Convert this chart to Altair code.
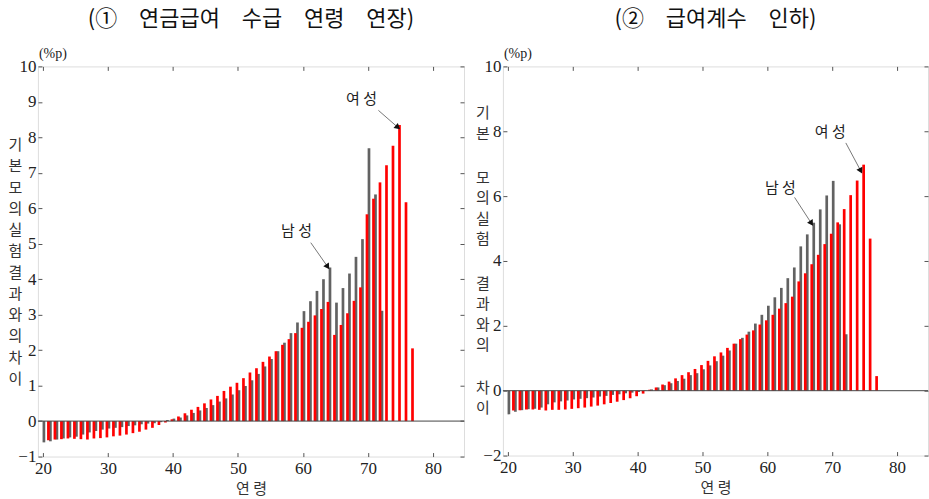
import altair as alt
import pandas as pd

# ---------------- data ----------------
x_ticks = [20, 30, 40, 50, 60, 70, 80]

# Panel 1: 연금급여 수급 연령 연장
ages_m1 = list(range(20, 73))
male_1 = [-0.60, -0.57, -0.52, -0.49, -0.46, -0.44, -0.38, -0.32, -0.28, -0.24,
          -0.21, -0.19, -0.17, -0.14, -0.12, -0.09, -0.07, -0.06, -0.03, 0.03,
          0.07, 0.10, 0.16, 0.23, 0.30, 0.37, 0.45, 0.55, 0.64, 0.75,
          0.87, 0.99, 1.15, 1.33, 1.54, 1.75, 1.97, 2.21, 2.48, 2.78,
          3.10, 3.38, 3.67, 4.00, 4.33, 3.34, 3.75, 4.16, 4.63, 5.13,
          7.69, 6.39, 3.11]
ages_f1 = list(range(21, 78))
female_1 = [-0.54, -0.52, -0.51, -0.49, -0.50, -0.51, -0.52, -0.49, -0.48,
            -0.46, -0.43, -0.41, -0.38, -0.34, -0.30, -0.24, -0.19, -0.11, -0.04,
            0.05, 0.13, 0.22, 0.32, 0.40, 0.50, 0.61, 0.71, 0.85, 0.97,
            1.08, 1.21, 1.37, 1.49, 1.67, 1.82, 1.97, 2.15, 2.31, 2.48,
            2.63, 2.80, 2.98, 3.16, 3.36, 2.43, 2.71, 3.04, 3.39, 3.77,
            5.83, 6.27, 6.73, 7.21, 7.76, 8.35, 6.17, 2.05]
y_ticks_1 = list(range(-1, 11))

# Panel 2: 급여계수 인하
ages_m2 = list(range(20, 73))
male_2 = [-0.73, -0.65, -0.60, -0.57, -0.56, -0.52, -0.42, -0.36, -0.33, -0.30,
          -0.27, -0.25, -0.23, -0.21, -0.18, -0.16, -0.13, -0.11, -0.08, -0.06,
          -0.04, -0.01, 0.04, 0.10, 0.17, 0.23, 0.30, 0.37, 0.48, 0.54,
          0.66, 0.78, 0.91, 1.08, 1.24, 1.45, 1.63, 1.82, 2.07, 2.34,
          2.62, 2.88, 3.17, 3.47, 3.80, 4.45, 4.82, 5.18, 5.59, 6.02,
          6.47, 5.13, 1.74]
ages_f2 = list(range(21, 78))
female_2 = [-0.61, -0.60, -0.58, -0.58, -0.59, -0.61, -0.59, -0.59, -0.58,
            -0.56, -0.54, -0.52, -0.49, -0.46, -0.42, -0.38, -0.34, -0.29, -0.23,
            -0.17, -0.09, 0.03, 0.10, 0.19, 0.28, 0.38, 0.48, 0.57, 0.67,
            0.79, 0.92, 1.06, 1.18, 1.32, 1.45, 1.59, 1.73, 1.86, 2.04,
            2.17, 2.34, 2.53, 2.70, 2.90, 3.37, 3.62, 3.90, 4.19, 4.52,
            4.84, 5.19, 5.60, 6.03, 6.48, 6.97, 4.69, 0.45]
y_ticks_2 = [-2, 0, 2, 4, 6, 8, 10]

# annotations: label position, arrow start, arrow end (data units), arrowhead angle
ann_text = ["남 성", "여 성"]
ann1_tx, ann1_ty = [59.0, 69.0], [5.37, 9.07]
ann1_sx, ann1_sy = [61.2, 71.6], [5.03, 8.76]
ann1_ex, ann1_ey = [63.8, 74.6], [4.35, 8.28]
ann1_ang = [56, 40]
ann2_tx, ann2_ty = [62.0, 69.7], [6.26, 7.97]
ann2_sx, ann2_sy = [64.2, 72.1], [5.96, 7.64]
ann2_ex, ann2_ey = [66.8, 74.4], [5.16, 6.78]
ann2_ang = [57, 62]

title_1 = "(①\u3000연금급여\u3000수급\u3000연령\u3000연장)"
title_2 = "(②\u3000급여계수\u3000인하)"
# y-axis caption: panel 1 as one stacked column, panel 2 split in groups
ylab_1 = list("기본모의실험결과와의차이")
ylab_2_groups = ["기\n본", "모\n의\n실\n험", "결\n과\n와\n의", "차\n이"]
ylab_2_first = [8.55, 6.57, 3.30, 0.09]   # level of each group's first character

NUM_FONT = "Liberation Sans Narrow"
KR_FONT = "Noto Sans CJK KR"
RED = "#ff0000"
GRAY = "#626262"


def panel(ages_m, vals_m, ages_f, vals_f, ydom, yticks, w, h, title, toff,
          ylab, lh, tx, tY, sx, sy, ex, ey, ang, pct_y, groups=None, groups_y=None):
    dm = pd.DataFrame({"age": ages_m, "v": vals_m})
    df = pd.DataFrame({"age": ages_f, "v": vals_f})
    xs = alt.Scale(domain=[20, 84], nice=False, zero=False)
    ys = alt.Scale(domain=ydom, nice=False, zero=False)

    x_main = alt.Axis(values=x_ticks, ticks=False, domain=False, grid=False,
                      labelFont=NUM_FONT, labelFontSize=17, labelColor="#222",
                      labelPadding=4, title="연 령", titleFont=KR_FONT,
                      titleFontSize=15, titleFontWeight="normal", titleColor="#333",
                      titlePadding=5)
    y_kw = dict(values=yticks, ticks=False, domain=False, grid=False,
                labelFont=NUM_FONT, labelFontSize=17, labelColor="#222",
                labelPadding=2, labelFlush=False)
    if ylab is not None:
        n = len(ylab)
        first_y = h / 2 - (n - 1) / 2 * lh
        y_main = alt.Axis(title=ylab, titleAngle=0, titleX=-23, titleY=first_y,
                          titleAlign="center", titleBaseline="middle",
                          titleLineHeight=lh, titleFont=KR_FONT, titleFontSize=15,
                          titleFontWeight="normal", titleColor="#333", **y_kw)
    else:
        y_main = alt.Axis(title=None, **y_kw)

    gray_bars = alt.Chart(dm).mark_bar(size=2.7, xOffset=1, color=GRAY).encode(
        x=alt.X("age:Q", scale=xs, axis=x_main),
        y=alt.Y("v:Q", scale=ys, axis=y_main),
    )
    red_bars = alt.Chart(df).mark_bar(size=2.7, xOffset=-1, color=RED).encode(
        x=alt.X("age:Q", scale=xs, axis=None),
        y=alt.Y("v:Q", scale=ys, axis=None),
    )

    def tick_axis(orient, vals):
        return alt.Axis(orient=orient, offset=-4, tickSize=4, tickColor="#555",
                        labels=False, domain=False, grid=False, title=None, values=vals)

    ticks_bl = alt.Chart(dm).mark_point(opacity=0).encode(
        x=alt.X("age:Q", scale=xs, axis=tick_axis("bottom", x_ticks)),
        y=alt.Y("v:Q", scale=ys, axis=tick_axis("left", yticks)),
    )
    ticks_tr = alt.Chart(dm).mark_point(opacity=0).encode(
        x=alt.X("age:Q", scale=xs, axis=tick_axis("top", x_ticks)),
        y=alt.Y("v:Q", scale=ys, axis=tick_axis("right", yticks)),
    )

    zero = alt.Chart(pd.DataFrame({"z": [0]})).mark_rule(color="#444", strokeWidth=1).encode(
        y=alt.Y("z:Q", scale=ys, axis=None)
    )

    ann = pd.DataFrame({"t": ann_text, "tx": tx, "ty": tY, "sx": sx, "sy": sy,
                        "ex": ex, "ey": ey, "ang": ang})
    labels = alt.Chart(ann).mark_text(font=KR_FONT, fontSize=15, color="#222").encode(
        x=alt.X("tx:Q", scale=xs, axis=None),
        y=alt.Y("ty:Q", scale=ys, axis=None),
        text="t:N",
    )
    lines = alt.Chart(ann).mark_rule(color="#555", strokeWidth=0.8).encode(
        x=alt.X("sx:Q", scale=xs, axis=None), x2="ex:Q",
        y=alt.Y("sy:Q", scale=ys, axis=None), y2="ey:Q",
    )
    heads = alt.Chart(ann).mark_point(shape="triangle-right", filled=True, color="#111",
                                      size=45, opacity=1).encode(
        x=alt.X("ex:Q", scale=xs, axis=None),
        y=alt.Y("ey:Q", scale=ys, axis=None),
        angle=alt.Angle("ang:Q", scale=None),
    )
    pct = alt.Chart(pd.DataFrame({"t": ["(%p)"]})).mark_text(
        font=NUM_FONT, fontSize=14, color="#222", align="left", baseline="middle"
    ).encode(x=alt.value(1), y=alt.value(pct_y), text="t:N")

    layers = [gray_bars, red_bars, ticks_bl, ticks_tr, zero, lines, heads, labels, pct]
    if groups is not None:
        gl = alt.Chart(pd.DataFrame({"g": groups, "gy": groups_y})).mark_text(
            font=KR_FONT, fontSize=15, color="#333", lineBreak="\n", lineHeight=20.5,
            align="center", baseline="middle"
        ).encode(x=alt.value(-20), y=alt.Y("gy:Q", scale=ys, axis=None), text="g:N")
        layers.append(gl)

    return alt.layer(*layers).resolve_axis(x="independent", y="independent").properties(
        width=w, height=h,
        title=alt.TitleParams(title, font=KR_FONT, fontSize=22, fontWeight="normal",
                              color="#111", anchor="middle", offset=16),
    )


p1 = panel(ages_m1, male_1, ages_f1, female_1, [-1, 10], y_ticks_1, 427, 391,
           title_1, 16, ylab_1, 21.3,
           ann1_tx, ann1_ty, ann1_sx, ann1_sy, ann1_ex, ann1_ey, ann1_ang, -12)
p2 = panel(ages_m2, male_2, ages_f2, female_2, [-2, 10], y_ticks_2, 426, 390,
           title_2, 16, None, 21,
           ann2_tx, ann2_ty, ann2_sx, ann2_sy, ann2_ex, ann2_ey, ann2_ang, -12,
           groups=ylab_2_groups, groups_y=ylab_2_first)

chart = alt.hconcat(p1, p2, spacing=10).properties(
    padding={"left": 7, "top": 7, "right": 0, "bottom": 0}
).configure_view(stroke="#666", strokeWidth=1).configure(background="white")

chart.save("out.html", embed_options={"renderer": "svg", "actions": False})
